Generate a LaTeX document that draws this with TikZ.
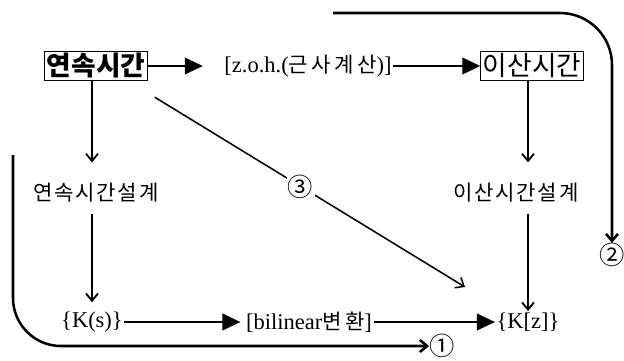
\documentclass[tikz,border=0pt]{standalone}
\usepackage{fontspec}
\setmainfont{Liberation Serif}
\newfontfamily\kr{Noto Sans CJK KR}
\newfontfamily\krsp[LetterSpace=8]{Noto Sans CJK KR}
\newfontfamily\krwide[LetterSpace=16]{Noto Sans CJK KR}
\usetikzlibrary{arrows.meta}

\begin{document}
\begin{tikzpicture}[
  timebox/.style={draw, line width=0.7pt, inner sep=1.5pt, font=\kr\fontsize{19}{22}\selectfont},
  designtxt/.style={inner sep=2pt, font=\krsp\fontsize{15}{17}\selectfont},
  steptxt/.style={inner sep=1pt, font=\fontsize{16}{18}\selectfont},
  circnum/.style={inner sep=0pt, font=\kr\fontsize{18}{20}\selectfont},
  bigarrow/.style={-{Triangle[length=0.45cm, width=0.42cm]}, line width=0.8pt},
  downarrow/.style={-{Straight Barb[length=0.18cm, width=0.3cm]}, line width=1.3pt},
  route/.style={-{Straight Barb[length=0.18cm, width=0.3cm]}, line width=1.8pt}
]
\useasboundingbox (0,0) rectangle (15.6,-9);

% Top row: continuous and discrete time
\node[timebox, font=\kr\bfseries\fontsize{19}{22}\selectfont] (cont) at (2.4,-1.65) {연속시간};
\node[steptxt] (zoh) at (7.7,-1.65) {[z.o.h.({\krwide\fontsize{15}{17}\selectfont 근사계산})]};
\node[timebox] (disc) at (13.3,-1.65) {이산시간};

% Middle row: design
\node[designtxt] (contd) at (2.4,-4.825) {연속시간설계};
\node[designtxt] (discd) at (12.9,-4.825) {이산시간설계};

% Bottom row: controllers
\node[steptxt] (ks) at (2.3,-8.05) {\{K(s)\}};
\node[steptxt] (bil) at (7.725,-8.05) {[bilinear{\krwide\fontsize{15}{17}\selectfont 변환}]};
\node[steptxt] (kz) at (13.2,-8.05) {\{K[z]\}};

% Circled route numbers
\node[circnum] (c1) at (11.05,-8.65) {①};
\node[circnum] (c2) at (15.3,-6.375) {②};

% Horizontal arrows
\draw[bigarrow, shorten >=0.5cm] (cont) -- (zoh);
\draw[bigarrow] (zoh) -- (disc);
\draw[bigarrow, shorten >=0.1cm] (ks) -- (bil);
\draw[bigarrow] (bil) -- (kz);

% Vertical arrows
\draw[downarrow, shorten >=0.45cm] (cont.south -| ks) -- (contd.north -| ks);
\draw[downarrow, shorten <=0.2cm, shorten >=0.2cm] (contd.south -| ks) -- (ks);
\draw[downarrow, shorten >=0.45cm] (disc.south -| kz) -- (discd.north -| kz);
\draw[downarrow, shorten <=0.2cm] (discd.south -| kz) -- (kz);

% Direct route 3
\coordinate (d3) at (11.625,-7.175);
\draw[downarrow, line width=1.1pt] ([shift={(0.175,-0.4)}]cont.south east)
  -- node[circnum, fill=white, inner sep=1pt, pos=0.47] (c3) {③} (d3);

% Routes 1 and 2
\coordinate (r1) at (0.325,-3.875);
\coordinate (r2) at (8.325,-0.325);
\draw[route, rounded corners=1.2cm] (r1) |- (c1);
\draw[route, rounded corners=1.3cm] (r2) -| (c2);

\end{tikzpicture}
\end{document}
